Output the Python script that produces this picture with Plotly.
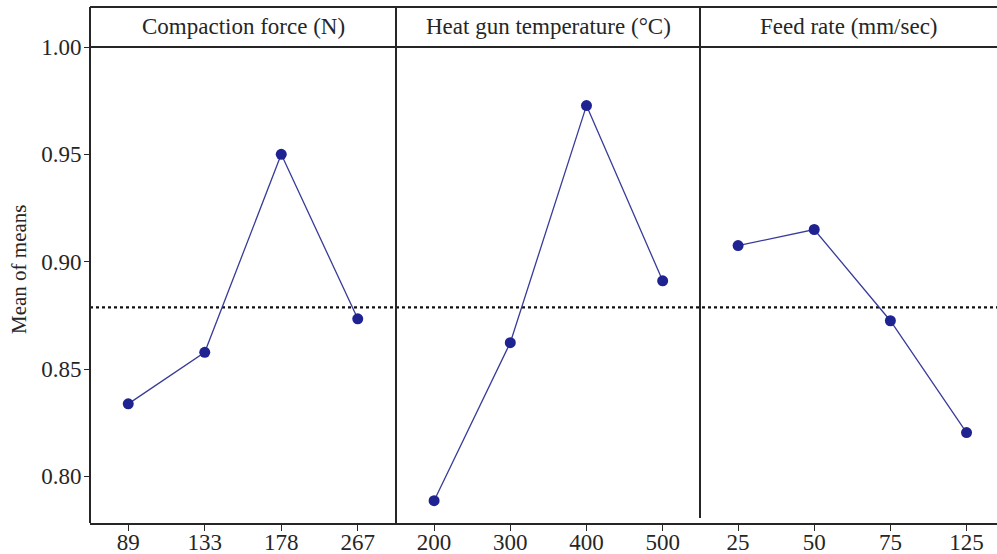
import numpy as np
import plotly.graph_objects as go

# Main-effects data: mean of means at each factor level
factor_titles = ["Compaction force (N)", "Heat gun temperature (°C)", "Feed rate (mm/sec)"]

compaction_levels = ["89", "133", "178", "267"]
compaction_means = [0.8338, 0.8578, 0.9500, 0.8734]

heat_levels = ["200", "300", "400", "500"]
heat_means = [0.7887, 0.8623, 0.9727, 0.8911]

feed_levels = ["25", "50", "75", "125"]
feed_means = [0.9075, 0.9150, 0.8725, 0.8204]

y_ticks = [0.80, 0.85, 0.90, 0.95, 1.00]

grand_mean = float(np.mean(compaction_means + heat_means + feed_means))

W, H = 997, 554
ML, MR, MT, MB = 90, 0, 47, 31
plot_w = W - ML - MR
plot_h = H - MT - MB

# panel boundaries (paper fractions)
b1 = 306 / plot_w
b2 = 610 / plot_w
domains = [[0, b1], [b1, b2], [b2, 1.0]]
ranges = [[-0.5, 3.5], [-0.5, 3.49], [-0.5, 3.40]]
strip_top = 1 + 40 / plot_h

FONT = "Liberation Serif, Times New Roman, serif"
INK = "#262626"
MARK = "#1f2391"
LINE = "#383c98"
TXT = 23

fig = go.Figure()
panels = [(compaction_levels, compaction_means),
          (heat_levels, heat_means),
          (feed_levels, feed_means)]
for i, (lv, mv) in enumerate(panels):
    fig.add_trace(go.Scatter(
        x=lv, y=mv, mode="lines+markers",
        xaxis="x" if i == 0 else f"x{i+1}", yaxis="y",
        line=dict(color=LINE, width=1.3),
        marker=dict(color=MARK, size=11, line=dict(width=0)),
        showlegend=False,
    ))

axis_common = dict(
    type="category", showgrid=False, zeroline=False,
    showline=True, linecolor=INK, linewidth=2,
    ticks="outside", ticklen=6, tickwidth=1.2, tickcolor=INK,
    ticklabelstandoff=-9,
    tickfont=dict(family=FONT, size=TXT, color=INK),
    anchor="y", fixedrange=True, automargin=False,
)
layout_axes = {}
for i in range(3):
    key = "xaxis" if i == 0 else f"xaxis{i+1}"
    layout_axes[key] = dict(axis_common, domain=domains[i], range=ranges[i])

fig.update_layout(
    width=W, height=H,
    margin=dict(l=ML, r=MR, t=MT, b=MB),
    paper_bgcolor="white", plot_bgcolor="white",
    yaxis=dict(
        range=[0.7783, 1.0], showgrid=False, zeroline=False,
        showline=False, ticks="outside", ticklen=5, tickwidth=1.2,
        tickcolor=INK, tickvals=y_ticks, tickformat=".2f",
        ticklabelstandoff=-2,
        tickfont=dict(family=FONT, size=TXT, color=INK),
        automargin=False, fixedrange=True,
    ),
    **layout_axes,
)

shapes = []
lw = 2
# outer left border and top border
shapes.append(dict(type="line", xref="paper", yref="paper", x0=0, x1=0, y0=0, y1=strip_top,
                   line=dict(color=INK, width=lw)))
shapes.append(dict(type="line", xref="paper", yref="paper", x0=0, x1=1, y0=strip_top, y1=strip_top,
                   line=dict(color=INK, width=lw)))
# strip bottom line
shapes.append(dict(type="line", xref="paper", yref="paper", x0=0, x1=1, y0=1, y1=1,
                   line=dict(color=INK, width=lw)))
# panel dividers
shapes.append(dict(type="line", xref="paper", yref="paper", x0=b1, x1=b1, y0=0, y1=strip_top,
                   line=dict(color=INK, width=lw)))
shapes.append(dict(type="line", xref="paper", yref="paper", x0=b2, x1=b2, y0=5 / plot_h, y1=strip_top,
                   line=dict(color=INK, width=lw)))
# grand mean reference line
shapes.append(dict(type="line", xref="paper", yref="y", x0=0, x1=1, y0=grand_mean, y1=grand_mean,
                   line=dict(color="#111111", width=2.2, dash="3px,3px"), layer="below"))
fig.update_layout(shapes=shapes)

annotations = []
for i, t in enumerate(factor_titles):
    annotations.append(dict(
        text=t, xref="paper", yref="paper",
        x=(domains[i][0] + domains[i][1]) / 2, y=1 + 20 / plot_h,
        xanchor="center", yanchor="middle", showarrow=False,
        font=dict(family=FONT, size=TXT, color=INK),
    ))
annotations.append(dict(
    text="Mean of means", xref="paper", yref="paper",
    x=(19 - ML) / plot_w, y=(H - MB - 270) / plot_h,
    xanchor="center", yanchor="middle", textangle=-90, showarrow=False,
    font=dict(family=FONT, size=21, color=INK),
))
fig.update_layout(annotations=annotations)

fig.write_html("out.html")
